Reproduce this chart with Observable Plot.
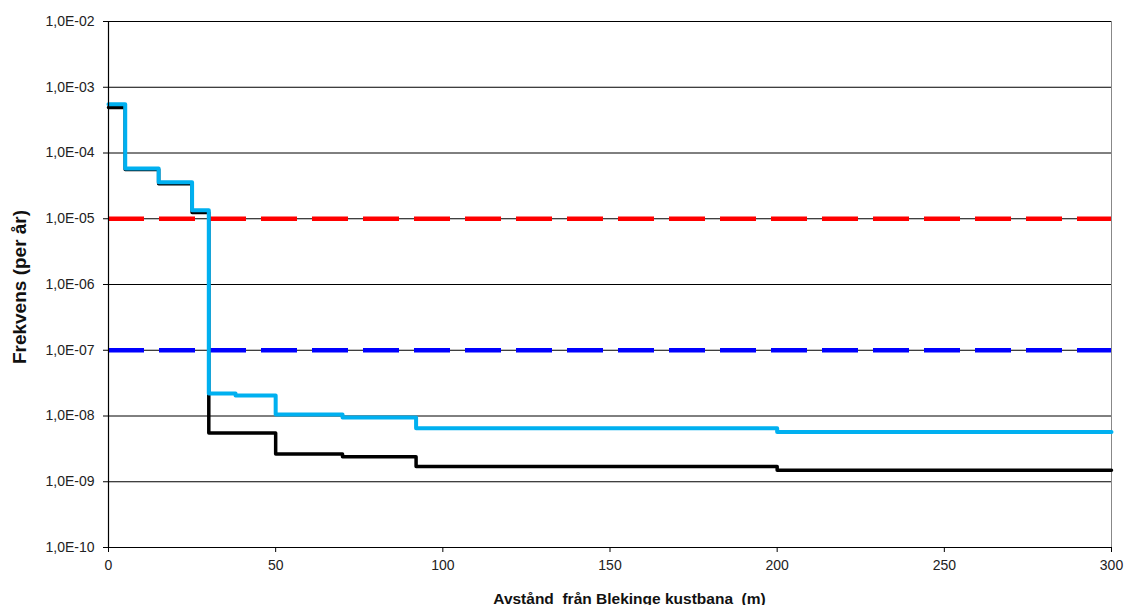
<!DOCTYPE html>
<html><head><meta charset="utf-8">
<script src="https://cdn.jsdelivr.net/npm/d3@7"></script>
<script src="https://cdn.jsdelivr.net/npm/@observablehq/plot@0.6"></script>
<style>
body{margin:0;background:#fff;}
#chart svg{display:block;}
</style>
</head><body><div id="chart"></div>
<script>
// Distance from the railway (m), step starts
const distance = [0, 5, 15, 25, 30, 38, 50, 70, 92, 200, 300];
// Light blue series (frequency per year)
const freqBlue = [5.5e-4, 5.8e-5, 3.6e-5, 1.35e-5, 2.2e-8, 2.05e-8, 1.05e-8, 9.5e-9, 6.5e-9, 5.7e-9, 5.7e-9];
// Black series (frequency per year)
const freqBlack = [4.9e-4, 5.6e-5, 3.4e-5, 1.25e-5, 5.5e-9, 5.5e-9, 2.65e-9, 2.4e-9, 1.7e-9, 1.5e-9, 1.5e-9];
// Criteria lines
const criterionUpper = [1e-5];
const criterionLower = [1e-7];
// Axis ticks and labels
const yTicks = [1e-10, 1e-9, 1e-8, 1e-7, 1e-6, 1e-5, 1e-4, 1e-3, 1e-2];
const yTickLabels = ["1,0E-10", "1,0E-09", "1,0E-08", "1,0E-07", "1,0E-06", "1,0E-05", "1,0E-04", "1,0E-03", "1,0E-02"];
const xTicks = [0, 50, 100, 150, 200, 250, 300];
const xTitle = "Avstånd  från Blekinge kustbana  (m)";
const yTitle = "Frekvens (per år)";

const blueData = distance.map((d, i) => ({x: d, y: freqBlue[i]}));
const blackData = distance.map((d, i) => ({x: d, y: freqBlack[i]}));

const font = "'Liberation Sans', Arial, sans-serif";

const chart = Plot.plot({
  width: 1126,
  height: 605,
  marginLeft: 108,
  marginRight: 15,
  marginTop: 21,
  marginBottom: 58,
  style: {fontFamily: font, background: "#fff", overflow: "visible"},
  x: {domain: [0, 300], axis: null},
  y: {type: "log", domain: [1e-10, 1e-2], axis: null},
  marks: [
    Plot.ruleY(yTicks, {stroke: "#000", strokeWidth: 1}),
    Plot.ruleX([300], {stroke: "#888", strokeWidth: 1}),
    Plot.ruleY(criterionUpper, {stroke: "#ff0000", strokeWidth: 4.5, strokeDasharray: "36,15"}),
    Plot.ruleY(criterionLower, {stroke: "#0000ff", strokeWidth: 4.5, strokeDasharray: "36,15"}),
    Plot.line(blackData, {x: "x", y: "y", curve: "step-after", stroke: "#000", strokeWidth: 3.5}),
    Plot.line(blueData, {x: "x", y: "y", curve: "step-after", stroke: "#00b0f0", strokeWidth: 4}),
    Plot.ruleX([0], {stroke: "#000", strokeWidth: 1.2}),
    Plot.ruleY([1e-10], {stroke: "#000", strokeWidth: 1.2}),
    Plot.axisY({
      ticks: yTicks,
      tickFormat: d => yTickLabels[yTicks.findIndex(t => Math.abs(Math.log10(t) - Math.log10(d)) < 1e-6)],
      tickSize: 5, tickPadding: 9, fill: "#222", stroke: "#000", label: null
    }),
    Plot.axisX({
      ticks: xTicks, tickFormat: d => String(d),
      tickSize: 5, tickPadding: 8, fill: "#222", stroke: "#000", label: null
    }),
    Plot.text([xTitle], {frameAnchor: "bottom", dx: 19.5, dy: 56, text: d => d, fontWeight: "bold", fontSize: 15.5, fill: "#111"}),
    Plot.text([yTitle], {frameAnchor: "left", textAnchor: "middle", dx: -88.5, dy: 2.5, rotate: -90, text: d => d, fontWeight: "bold", fontSize: 19, fill: "#111"})
  ]
});
// tick labels (texts starting with a digit) get the reference's size
d3.select(chart).selectAll("text").filter(function() {
  return /^[0-9]/.test(this.textContent);
}).style("font-size", "14px");
document.getElementById("chart").appendChild(chart);
</script>
</body></html>
